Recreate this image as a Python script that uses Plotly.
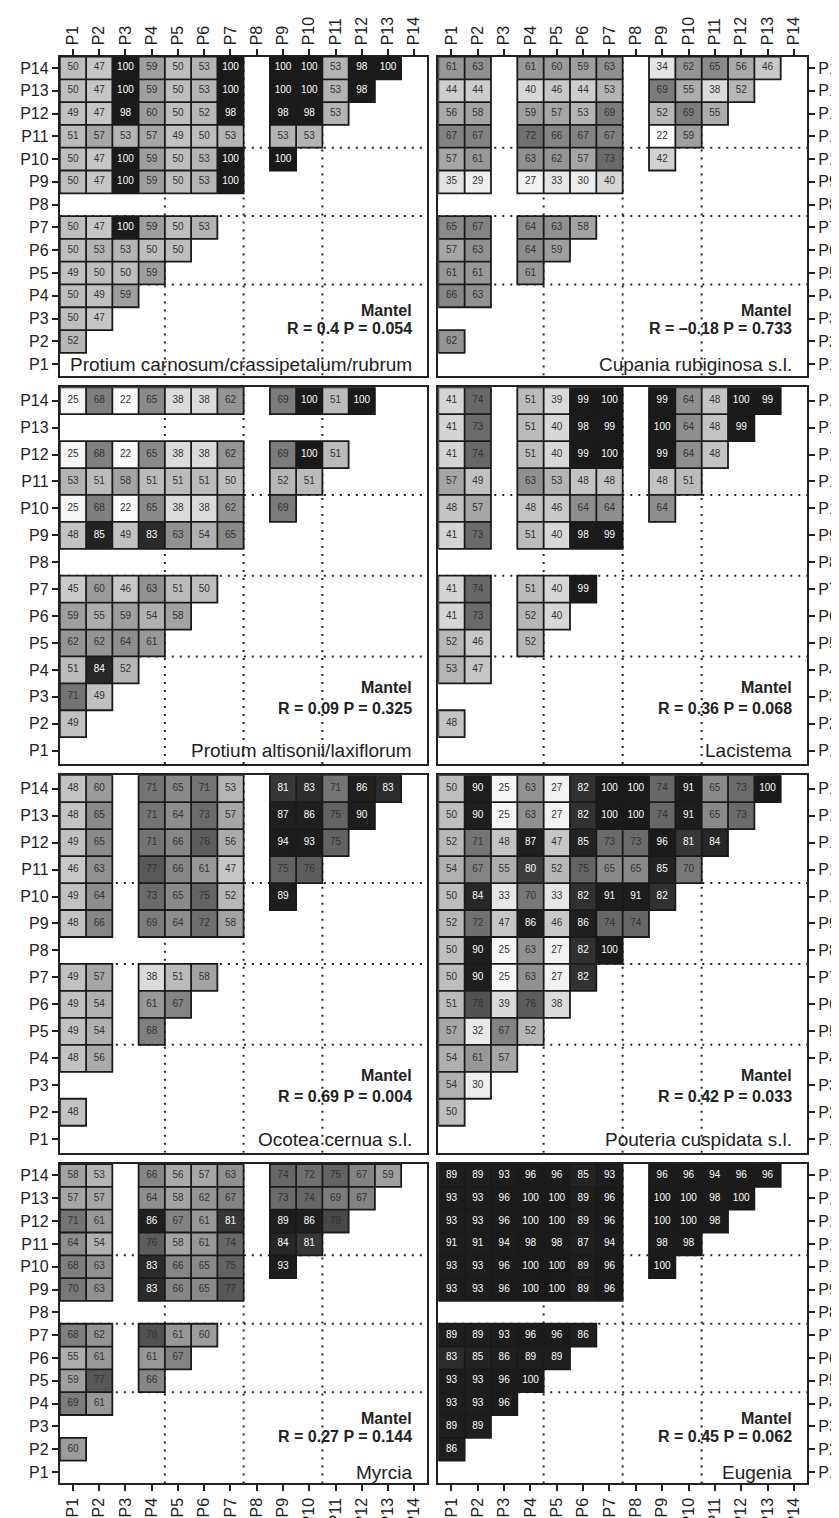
import plotly.graph_objects as go

W, H = 839, 1518
FONT = "Liberation Sans, Arial, Helvetica, sans-serif"

labels = ["P%d" % i for i in range(1, 15)]

# Each panel: rows P2 (bottom) .. P14 (top); entry k = value in column P(k+1); None = no data
protium_carnosum = [
    [52],
    [50, 47],
    [50, 49, 59],
    [49, 50, 50, 59],
    [50, 53, 53, 50, 50],
    [50, 47, 100, 59, 50, 53],
    [],
    [50, 47, 100, 59, 50, 53, 100, None],
    [50, 47, 100, 59, 50, 53, 100, None, 100],
    [51, 57, 53, 57, 49, 50, 53, None, 53, 53],
    [49, 47, 98, 60, 50, 52, 98, None, 98, 98, 53],
    [50, 47, 100, 59, 50, 53, 100, None, 100, 100, 53, 98],
    [50, 47, 100, 59, 50, 53, 100, None, 100, 100, 53, 98, 100],
]
cupania = [
    [62],
    [],
    [66, 63],
    [61, 61, None, 61],
    [57, 63, None, 64, 59],
    [65, 67, None, 64, 63, 58],
    [],
    [35, 29, None, 27, 33, 30, 40],
    [57, 61, None, 63, 62, 57, 73, None, 42],
    [67, 67, None, 72, 66, 67, 67, None, 22, 59],
    [56, 58, None, 59, 57, 53, 69, None, 52, 69, 55],
    [44, 44, None, 40, 46, 44, 53, None, 69, 55, 38, 52],
    [61, 63, None, 61, 60, 59, 63, None, 34, 62, 65, 56, 46],
]
protium_altisonii = [
    [49],
    [71, 49],
    [51, 84, 52],
    [62, 62, 64, 61],
    [59, 55, 59, 54, 58],
    [45, 60, 46, 63, 51, 50],
    [],
    [48, 85, 49, 83, 63, 54, 65],
    [25, 68, 22, 65, 38, 38, 62, None, 69],
    [53, 51, 58, 51, 51, 51, 50, None, 52, 51],
    [25, 68, 22, 65, 38, 38, 62, None, 69, 100, 51],
    [],
    [25, 68, 22, 65, 38, 38, 62, None, 69, 100, 51, 100],
]
lacistema = [
    [48],
    [],
    [53, 47],
    [52, 46, None, 52],
    [41, 73, None, 52, 40],
    [41, 74, None, 51, 40, 99],
    [],
    [41, 73, None, 51, 40, 98, 99],
    [48, 57, None, 48, 46, 64, 64, None, 64],
    [57, 49, None, 63, 53, 48, 48, None, 48, 51],
    [41, 74, None, 51, 40, 99, 100, None, 99, 64, 48],
    [41, 73, None, 51, 40, 98, 99, None, 100, 64, 48, 99],
    [41, 74, None, 51, 39, 99, 100, None, 99, 64, 48, 100, 99],
]
ocotea = [
    [48],
    [],
    [48, 56],
    [49, 54, None, 68],
    [49, 54, None, 61, 67],
    [49, 57, None, 38, 51, 58],
    [],
    [48, 66, None, 69, 64, 72, 58],
    [49, 64, None, 73, 65, 75, 52, None, 89],
    [46, 63, None, 77, 66, 61, 47, None, 75, 76],
    [49, 65, None, 71, 66, 76, 56, None, 94, 93, 75],
    [48, 65, None, 71, 64, 73, 57, None, 87, 86, 75, 90],
    [48, 60, None, 71, 65, 71, 53, None, 81, 83, 71, 86, 83],
]
pouteria = [
    [50],
    [54, 30],
    [54, 61, 57],
    [57, 32, 67, 52],
    [51, 78, 39, 76, 38],
    [50, 90, 25, 63, 27, 82],
    [50, 90, 25, 63, 27, 82, 100],
    [52, 72, 47, 86, 46, 86, 74, 74],
    [50, 84, 33, 70, 33, 82, 91, 91, 82],
    [54, 67, 55, 80, 52, 75, 65, 65, 85, 70],
    [52, 71, 48, 87, 47, 85, 73, 73, 96, 81, 84],
    [50, 90, 25, 63, 27, 82, 100, 100, 74, 91, 65, 73],
    [50, 90, 25, 63, 27, 82, 100, 100, 74, 91, 65, 73, 100],
]
myrcia = [
    [60],
    [],
    [69, 61],
    [59, 77, None, 66],
    [55, 61, None, 61, 67],
    [68, 62, None, 78, 61, 60],
    [],
    [70, 63, None, 83, 66, 65, 77],
    [68, 63, None, 83, 66, 65, 75, None, 93],
    [64, 54, None, 76, 58, 61, 74, None, 84, 81],
    [71, 61, None, 86, 67, 61, 81, None, 89, 86, 79],
    [57, 57, None, 64, 58, 62, 67, None, 73, 74, 69, 67],
    [58, 53, None, 66, 56, 57, 63, None, 74, 72, 75, 67, 59],
]
eugenia = [
    [86],
    [89, 89],
    [93, 93, 96],
    [93, 93, 96, 100],
    [83, 85, 86, 89, 89],
    [89, 89, 93, 96, 96, 86],
    [],
    [93, 93, 96, 100, 100, 89, 96],
    [93, 93, 96, 100, 100, 89, 96, None, 100],
    [91, 91, 94, 98, 98, 87, 94, None, 98, 98],
    [93, 93, 96, 100, 100, 89, 96, None, 100, 100, 98],
    [93, 93, 96, 100, 100, 89, 96, None, 100, 100, 98, 100],
    [89, 89, 93, 96, 96, 85, 93, None, 96, 96, 94, 96, 96],
]

species = ["Protium carnosum/crassipetalum/rubrum", "Cupania rubiginosa s.l.",
           "Protium altisonii/laxiflorum", "Lacistema",
           "Ocotea cernua s.l.", "Pouteria cuspidata s.l.",
           "Myrcia", "Eugenia"]
mantel_r = ["0.4", "\u20130.18", "0.09", "0.36", "0.69", "0.42", "0.27", "0.45"]
mantel_p = ["0.054", "0.733", "0.325", "0.068", "0.004", "0.033", "0.144", "0.062"]
matrices = [protium_carnosum, cupania, protium_altisonii, lacistema,
            ocotea, pouteria, myrcia, eugenia]

# grey ramp
ramp = [(20, "#ffffff"), (25, "#f6f6f6"), (30, "#ededed"), (35, "#e2e2e2"), (40, "#d7d7d7"),
        (45, "#cbcbcb"), (50, "#bebebe"), (55, "#adadad"), (60, "#9c9c9c"), (65, "#8a8a8a"),
        (70, "#787878"), (75, "#636363"), (78, "#525252"), (80, "#3d3d3d"), (83, "#2b2b2b"),
        (86, "#1f1f1f"), (100, "#1a1a1a")]
colorscale = [[(v - 20) / 80.0, c] for v, c in ramp]

# panel geometry in pixels
col_px = [(51.9, 419.9), (430.8, 800.0)]
row_px = [(48.6, 368.1), (379.8, 757.1), (768.2, 1146.2), (1157.6, 1477.4)]

fig = go.Figure()
shapes = []
annotations = []
layout = {}

for i, mat in enumerate(matrices):
    r, c = divmod(i, 2)
    sfx = "" if i == 0 else str(i + 1)
    xr, yr = "x" + sfx, "y" + sfx
    z = [[None] * 14 for _ in range(14)]
    tx, ty, tt, tc = [], [], [], []
    path = []
    for ri, row in enumerate(mat):
        yv = ri + 2
        for ci, v in enumerate(row):
            if v is None:
                continue
            xv = ci + 1
            z[yv - 1][xv - 1] = v
            tx.append(xv)
            ty.append(yv)
            tt.append(str(v))
            tc.append("#ffffff" if v >= 80 else "#333333")
            path.append("M%g,%g H%g V%g H%g Z" % (xv - 0.5, yv - 0.5, xv + 0.5, yv + 0.5, xv - 0.5))
    fig.add_trace(go.Heatmap(x=list(range(1, 15)), y=list(range(1, 15)), z=z,
                             colorscale=colorscale, zmin=20, zmax=100, showscale=False,
                             hoverinfo="skip", xaxis=xr, yaxis=yr))
    fig.add_trace(go.Scatter(x=tx, y=ty, text=tt, mode="text",
                             textfont=dict(size=10, color=tc, family=FONT),
                             hoverinfo="skip", showlegend=False, xaxis=xr, yaxis=yr))
    # dotted guide lines (below cells)
    for v in (4.5, 7.5, 10.5):
        shapes.append(dict(type="line", xref=xr, yref=yr, x0=v, x1=v, y0=0.5, y1=14.5,
                           layer="below", line=dict(color="#222222", width=2, dash="2px,6px")))
        shapes.append(dict(type="line", xref=xr, yref=yr, x0=0.5, x1=14.5, y0=v, y1=v,
                           layer="below", line=dict(color="#222222", width=2, dash="2px,6px")))
    shapes.append(dict(type="path", xref=xr, yref=yr, path=" ".join(path),
                       line=dict(color="#1a1a1a", width=1.8), fillcolor="rgba(0,0,0,0)"))
    annotations += [
        dict(xref=xr, yref=yr, x=14.0, y=3.36, xanchor="right", yanchor="middle",
             text="<b>Mantel</b>", showarrow=False, font=dict(size=16, color="#222", family=FONT)),
        dict(xref=xr, yref=yr, x=14.0, y=2.57, xanchor="right", yanchor="middle",
             text="<b>R = %s P = %s</b>" % (mantel_r[i], mantel_p[i]), showarrow=False,
             font=dict(size=16, color="#222", family=FONT)),
        dict(xref=xr, yref=yr, x=14.0, y=1.0, xanchor="right", yanchor="middle",
             text=species[i], showarrow=False, font=dict(size=19, color="#222", family=FONT)),
    ]
    x0p, x1p = col_px[c]
    y0p, y1p = row_px[r]
    xa = dict(domain=[x0p / W, x1p / W], range=[0.5, 14.5], tickvals=list(range(1, 15)),
              ticktext=labels, showgrid=False, zeroline=False, showline=True, linewidth=2,
              linecolor="#222222", mirror=True, anchor=yr, fixedrange=True,
              tickfont=dict(size=16, color="#222", family=FONT), tickangle=-90)
    if r == 0:
        xa.update(side="top", ticks="outside", ticklen=6, tickwidth=1.5, tickcolor="#222",
                  showticklabels=True)
    elif r == 3:
        xa.update(side="bottom", ticks="outside", ticklen=6, tickwidth=1.5, tickcolor="#222",
                  showticklabels=True)
    else:
        xa.update(ticks="", showticklabels=False)
    ya = dict(domain=[1 - y1p / H, 1 - y0p / H], range=[0.5, 14.5], tickvals=list(range(1, 15)),
              ticktext=labels, showgrid=False, zeroline=False, showline=True, linewidth=2,
              linecolor="#222222", mirror=True, anchor=xr, fixedrange=True,
              ticks="outside", ticklen=6, tickwidth=1.5, tickcolor="#222",
              side="left" if c == 0 else "right",
              tickfont=dict(size=16, color="#222", family=FONT))
    layout["xaxis" + sfx] = xa
    layout["yaxis" + sfx] = ya

fig.update_layout(width=W, height=H, margin=dict(l=0, r=0, t=0, b=0),
                  paper_bgcolor="white", plot_bgcolor="white", showlegend=False,
                  shapes=shapes, annotations=annotations, **layout)
fig.write_html("out.html")
